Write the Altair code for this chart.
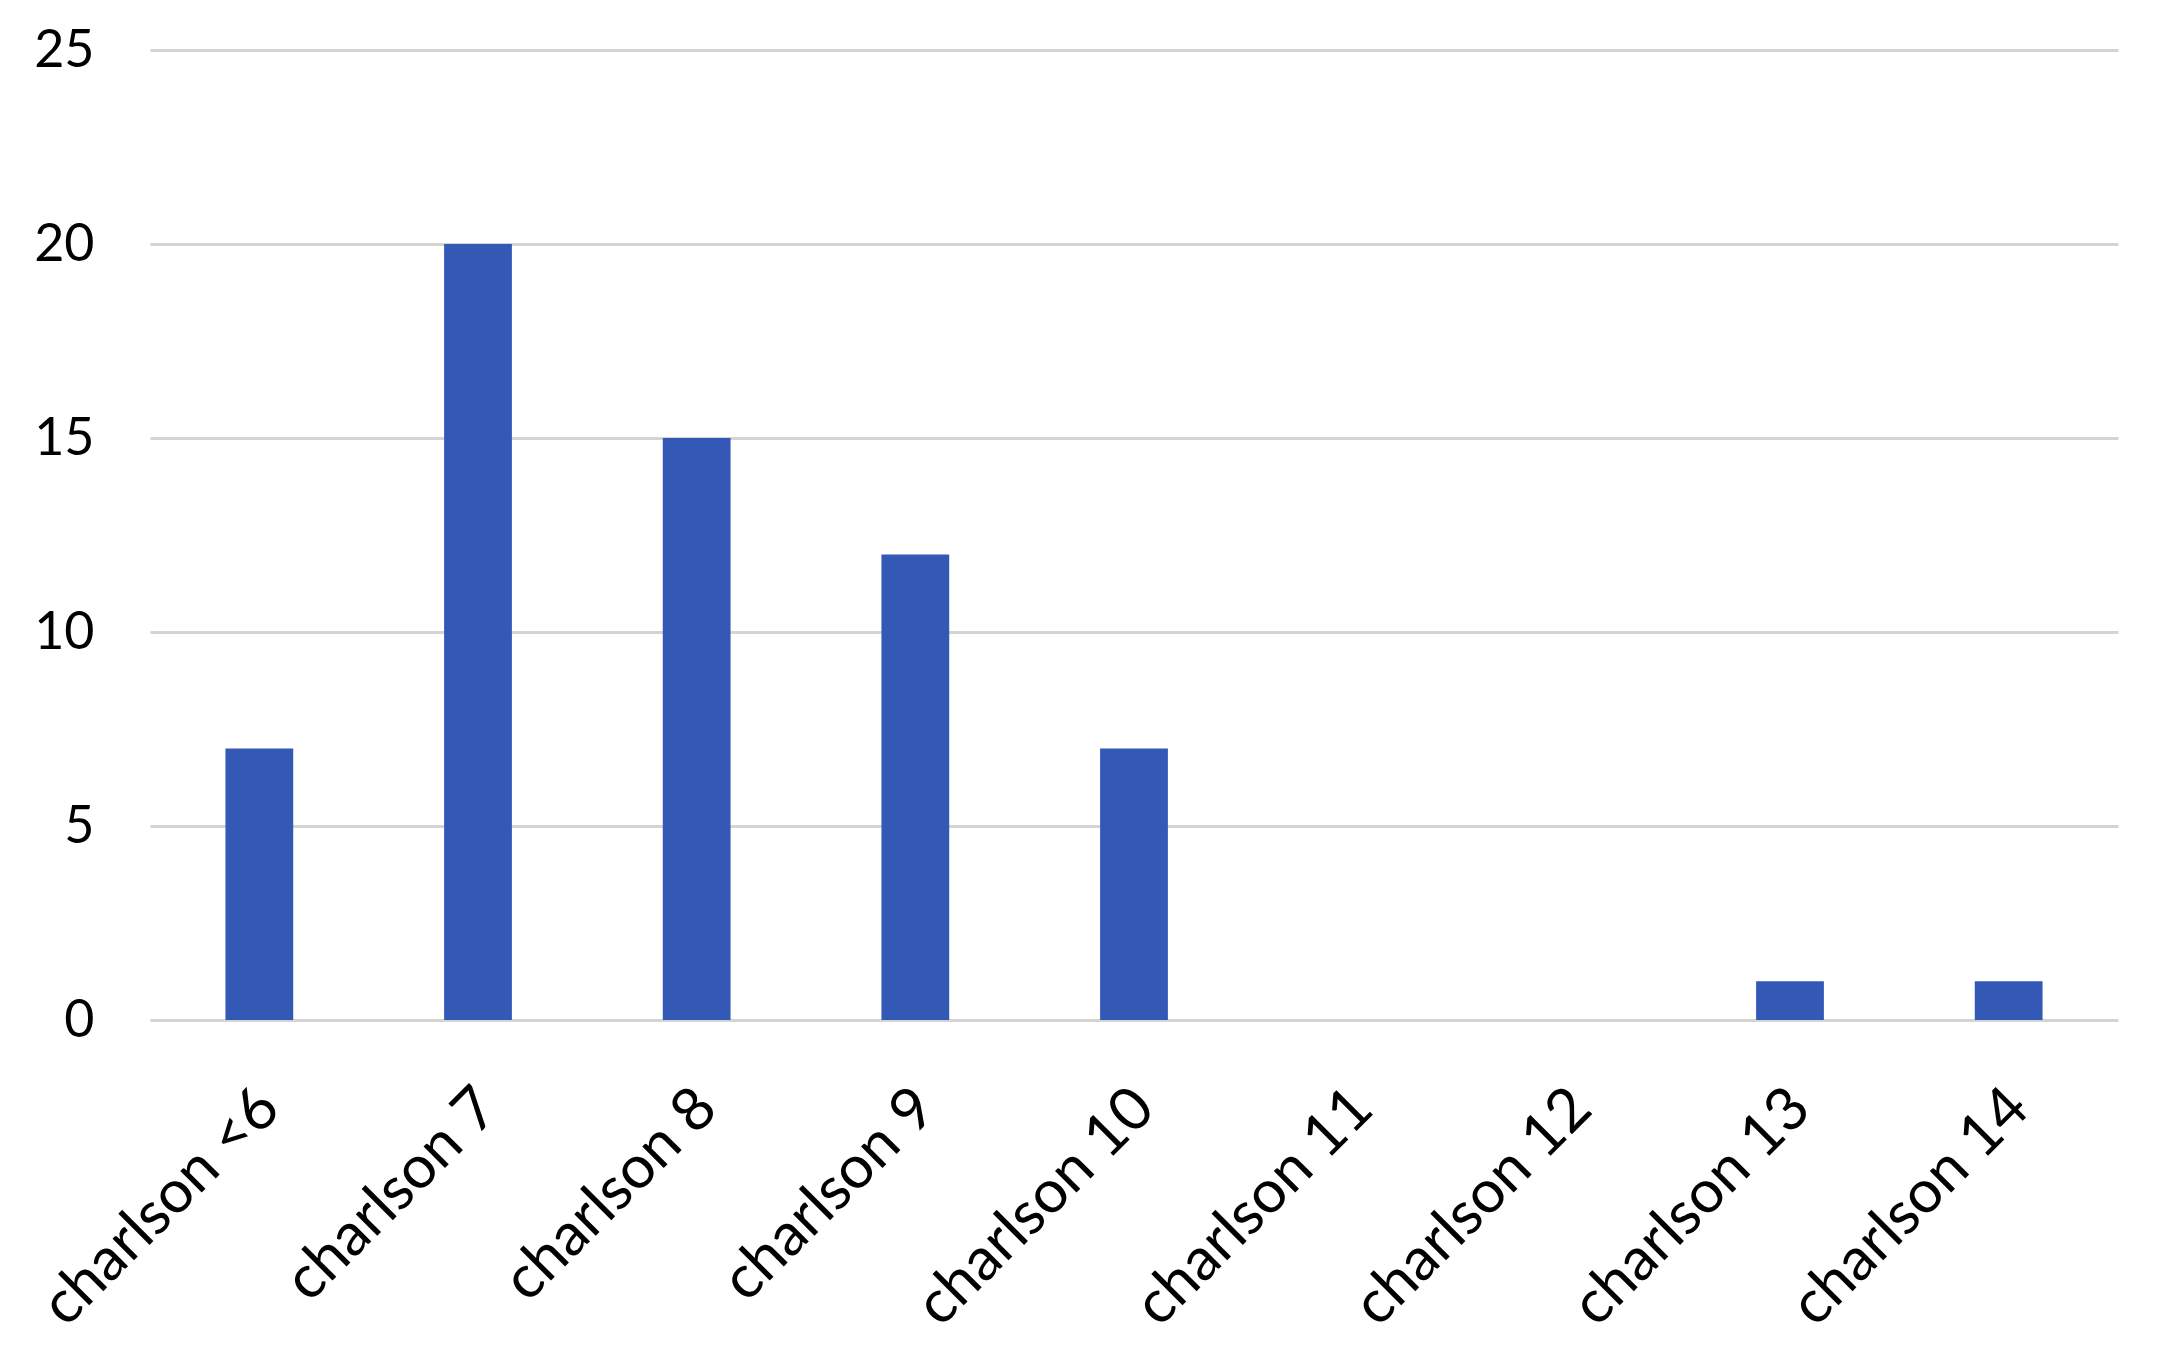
import altair as alt
import pandas as pd

categories = ["charlson <6", "charlson 7", "charlson 8", "charlson 9", "charlson 10",
              "charlson 11", "charlson 12", "charlson 13", "charlson 14"]
values = [7, 20, 15, 12, 7, 0, 0, 1, 1]
y_ticks = [0, 5, 10, 15, 20, 25]

df = pd.DataFrame({"category": categories, "count": values})

chart = alt.Chart(df).mark_bar(color="#3458B6").encode(
    x=alt.X("category:N", sort=categories, title=None,
            scale=alt.Scale(paddingInner=0.69, paddingOuter=0.345),
            axis=alt.Axis(labelAngle=-45, labelFont="Lato", labelFontSize=60,
                          labelColor="#000000", ticks=False, domain=False,
                          grid=False, labelPadding=58, labelOffset=-10,
                          labelLimit=0)),
    y=alt.Y("count:Q", title=None,
            scale=alt.Scale(domain=[0, 25]),
            axis=alt.Axis(values=y_ticks, labelFont="Lato", labelFontSize=52,
                          labelColor="#000000", ticks=False, domain=False,
                          gridColor="#d4d4d4", gridWidth=3, labelPadding=56)),
).properties(
    width=1968, height=970,
    autosize=alt.AutoSizeParams(type="none"),
    padding={"left": 142, "top": 42, "right": 30, "bottom": 320},
).configure_view(stroke=None)

chart.save("out.html", embed_options={"renderer": "svg", "actions": False})
